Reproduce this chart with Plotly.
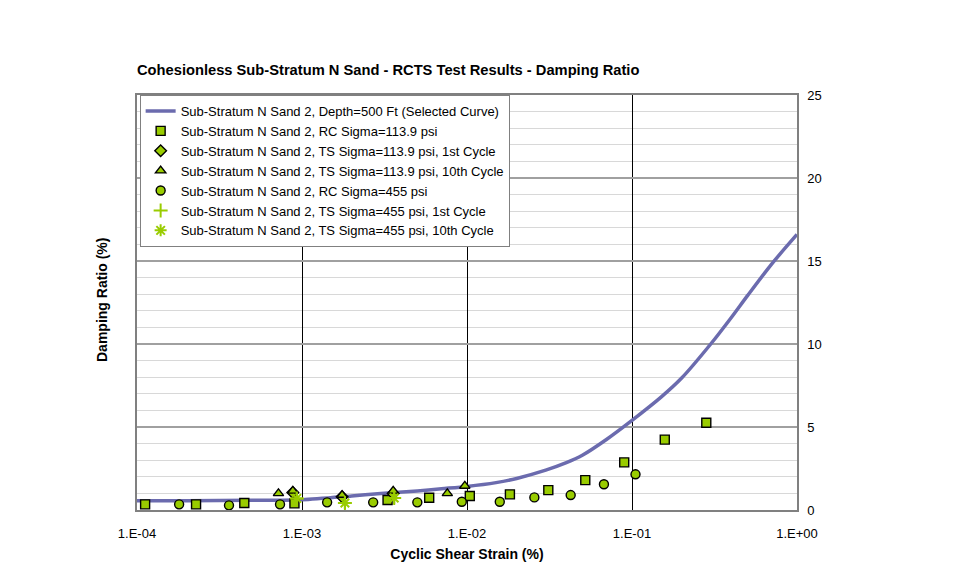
import plotly.graph_objects as go

# Selected curve
curve_x = [1e-4, 2e-4, 5e-4, 1e-3, 2e-3, 3e-3, 5e-3, 7e-3, 1e-2, 1.5e-2, 2e-2, 3e-2, 4e-2, 5e-2, 7e-2,
           1e-1, 1.5e-1, 2e-1, 3e-1, 4e-1, 5e-1, 7e-1, 1.0]
curve_y = [0.56, 0.56, 0.58, 0.62, 0.85, 1.0, 1.15, 1.28, 1.42, 1.65, 1.9, 2.4, 2.85, 3.3, 4.25,
           5.4, 6.8, 7.95, 10.0, 11.6, 12.9, 14.8, 16.6]

rc114_x = [1.12e-4, 2.28e-4, 4.47e-4, 9.0e-4, 3.30e-3, 5.9e-3, 1.04e-2, 1.82e-2, 3.11e-2, 5.21e-2, 8.97e-2, 0.158, 0.282]
rc114_y = [0.34, 0.34, 0.42, 0.40, 0.60, 0.74, 0.84, 0.94, 1.20, 1.80, 2.87, 4.24, 5.26]

ts114_1_x = [8.8e-4, 1.75e-3, 3.57e-3]
ts114_1_y = [1.05, 0.80, 1.00]

ts114_10_x = [7.2e-4, 8.8e-4, 1.75e-3, 3.57e-3, 7.6e-3, 9.7e-3]
ts114_10_y = [1.00, 1.15, 0.90, 1.15, 1.00, 1.45]

rc455_x = [1.8e-4, 3.61e-4, 7.36e-4, 1.42e-3, 2.7e-3, 5.0e-3, 9.3e-3, 1.58e-2, 2.56e-2, 4.25e-2, 6.76e-2, 0.105]
rc455_y = [0.34, 0.28, 0.34, 0.46, 0.46, 0.46, 0.50, 0.50, 0.76, 0.90, 1.55, 2.15]

ts455_1_x = [9.3e-4, 1.82e-3, 3.62e-3]
ts455_1_y = [0.70, 0.42, 0.72]

ts455_10_x = [9.3e-4, 1.82e-3, 3.62e-3]
ts455_10_y = [0.70, 0.42, 0.72]

x_tickvals = [1e-4, 1e-3, 1e-2, 1e-1, 1.0]
x_ticktext = ["1.E-04", "1.E-03", "1.E-02", "1.E-01", "1.E+00"]

GREEN = "#99CC00"
FONT = "Liberation Sans, Arial, sans-serif"

fig = go.Figure()
fig.add_trace(go.Scatter(x=curve_x, y=curve_y, mode="lines", line=dict(color="#6B6BAE", width=3.5, shape="spline", smoothing=0.8),
                         name="Sub-Stratum N Sand 2, Depth=500 Ft (Selected Curve)"))
mk = dict(color=GREEN, size=9, line=dict(color="black", width=1.4))
fig.add_trace(go.Scatter(x=rc114_x, y=rc114_y, mode="markers", marker=dict(symbol="square", **mk),
                         name="Sub-Stratum N Sand 2, RC Sigma=113.9 psi"))
fig.add_trace(go.Scatter(x=ts114_1_x, y=ts114_1_y, mode="markers", marker=dict(symbol="diamond", **mk),
                         name="Sub-Stratum N Sand 2, TS Sigma=113.9 psi, 1st Cycle"))
fig.add_trace(go.Scatter(x=ts114_10_x, y=ts114_10_y, mode="markers", marker=dict(symbol="triangle-up", **mk),
                         name="Sub-Stratum N Sand 2, TS Sigma=113.9 psi, 10th Cycle"))
fig.add_trace(go.Scatter(x=rc455_x, y=rc455_y, mode="markers", marker=dict(symbol="circle", **mk),
                         name="Sub-Stratum N Sand 2, RC Sigma=455 psi"))
fig.add_trace(go.Scatter(x=ts455_1_x, y=ts455_1_y, mode="markers",
                         marker=dict(symbol="cross-thin-open", size=10, color=GREEN, line=dict(color=GREEN, width=2)),
                         name="Sub-Stratum N Sand 2, TS Sigma=455 psi, 1st Cycle"))
fig.add_trace(go.Scatter(x=ts455_10_x, y=ts455_10_y, mode="markers",
                         marker=dict(symbol="asterisk-open", size=10, color=GREEN, line=dict(color=GREEN, width=2)),
                         name="Sub-Stratum N Sand 2, TS Sigma=455 psi, 10th Cycle"))

# page body has an 8px margin, so compensate
L, R, T, B = 129, 179, 87, 81
PW, PH = 968 - L - R, 583 - T - B

fig.update_layout(
    width=968, height=583,
    paper_bgcolor="white", plot_bgcolor="white",
    margin=dict(l=L, r=R, t=T, b=B),
    font=dict(family=FONT, size=12, color="black"),
    title=dict(text="<b>Cohesionless Sub-Stratum N Sand - RCTS Test Results - Damping Ratio</b>",
               x=0, xref="paper", xanchor="left", y=1 - 62 / 583, yanchor="middle", font=dict(size=14.7)),
    showlegend=True,
    legend=dict(x=0.004, y=1, xanchor="left", yanchor="top", bgcolor="white",
                bordercolor="#808080", borderwidth=1, font=dict(size=13), tracegroupgap=0,
                itemwidth=30),
    xaxis=dict(type="log", range=[-4, 0], tickvals=x_tickvals, ticktext=x_ticktext,
               showgrid=True, gridcolor="black", gridwidth=1.3,
               showline=True, linecolor="#808080", linewidth=2, mirror=True,
               ticks="", zeroline=False, ticklabelstandoff=10, automargin=False,
               title=dict(text="<b>Cyclic Shear Strain (%)</b>", font=dict(size=14), standoff=10),
               tickfont=dict(size=13)),
    yaxis=dict(range=[0, 25], dtick=5, side="right", showgrid=True, gridcolor="#A0A0A0", gridwidth=1.5,
               minor=dict(dtick=1, showgrid=True, gridcolor="#D8D8D8", gridwidth=1),
               showline=True, linecolor="#808080", linewidth=1.5, mirror=True,
               ticks="", zeroline=False, ticklabelstandoff=6, automargin=False, tickfont=dict(size=13)),
    annotations=[dict(text="<b>Damping Ratio (%)</b>", x=(94 - L) / PW, y=(502 - 292) / PH,
                      xref="paper", yref="paper", showarrow=False, textangle=-90,
                      font=dict(size=14), xanchor="center", yanchor="middle")],
)
fig.write_html("out.html")
